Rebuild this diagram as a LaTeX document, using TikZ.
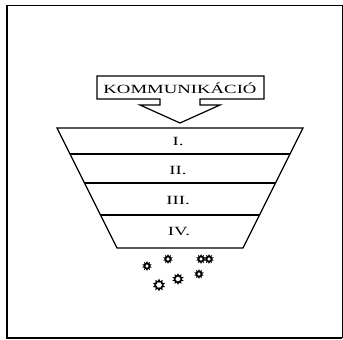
\documentclass[tikz,border=0pt]{standalone}
\usepackage{fontspec}
\setmainfont{Liberation Serif}
\usetikzlibrary{shapes.geometric}
\begin{document}
\begin{tikzpicture}[x=1pt,y=-1pt,
  ln/.style={line width=1.2pt, line join=miter},
  lbl/.style={font=\fontsize{12.5}{13}\selectfont, inner sep=0pt},
  splat/.style={star, star points=10, star point ratio=1.6, draw, line width=1.2pt, fill=white, inner sep=0pt, minimum size=#1},
  splat/.default=8pt]
\useasboundingbox (0,0) rectangle (343,340);
\fill[white] (0,0) rectangle (343,340);
% frame
\draw[line width=0.9pt] (7,5) -- (342,5) -- (342,338);
\draw[line width=1.4pt] (7,338) -- (342,338);
\draw[line width=2.4pt] (7,4.5) -- (7,338.7);
% arrow callout
\draw[ln] (97,76) -- (264,76) -- (264,99) -- (200,99) -- (200,105) -- (220,105)
  -- (180,123) -- (140,105) -- (160,105) -- (160,99) -- (97,99) -- cycle;
\node[lbl] (kom) at (180,88) {\scalebox{1.5}[1]{KOMMUNIKÁCIÓ}};
% funnel
\draw[ln] (57,128) -- (303,128) -- (243,248) -- (117,248) -- cycle;
\draw[ln] (70,154) -- (290,154);
\draw[ln] (84.5,183) -- (275.5,183);
\draw[ln] (100.5,215) -- (259.5,215);
\node[lbl] (l1) at (178,141) {\scalebox{1.5}[1]{I.}};
\node[lbl] (l2) at (178,170) {\scalebox{1.5}[1]{II.}};
\node[lbl] (l3) at (178,200) {\scalebox{1.5}[1]{III.}};
\node[lbl] (l4) at (179,232) {\scalebox{1.5}[1]{IV.}};
% splats
\node[splat=7pt] (s1) at (147,266) {};
\node[splat=7pt] (s2) at (168,259) {};
\node[splat=7pt] (s3a) at (201,259) {};
\node[splat=7pt] (s3b) at (209,259) {};
\node[splat=10pt] (s4) at (159,285) {};
\node[splat=9pt] (s5) at (178,279) {};
\node[splat=7pt] (s6) at (199,274) {};
\end{tikzpicture}
\end{document}
